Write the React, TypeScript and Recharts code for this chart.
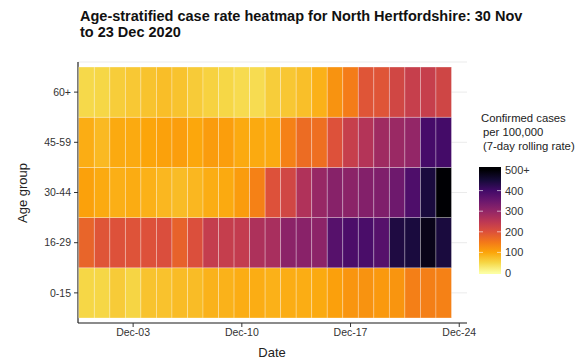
import { ScatterChart, Scatter, XAxis, YAxis, CartesianGrid } from 'recharts';

// Age bands, bottom row first
const AGE_GROUPS = ['0-15', '16-29', '30-44', '45-59', '60+'];

// 30 Nov .. 23 Dec 2020
const DATES = [
  '2020-11-30', '2020-12-01', '2020-12-02', '2020-12-03', '2020-12-04', '2020-12-05',
  '2020-12-06', '2020-12-07', '2020-12-08', '2020-12-09', '2020-12-10', '2020-12-11',
  '2020-12-12', '2020-12-13', '2020-12-14', '2020-12-15', '2020-12-16', '2020-12-17',
  '2020-12-18', '2020-12-19', '2020-12-20', '2020-12-21', '2020-12-22', '2020-12-23',
];

// confirmed cases per 100,000 (7-day rolling rate), one value per date
const RATE_0_15 = [50, 50, 62, 52, 70, 71, 77, 77, 87, 87, 92, 92, 88, 92, 92, 95, 106, 118, 120, 113, 118, 142, 142, 140];
const RATE_16_29 = [175, 195, 200, 198, 200, 205, 178, 203, 238, 236, 240, 268, 275, 310, 312, 308, 375, 388, 390, 375, 440, 445, 480, 445];
const RATE_30_44 = [105, 95, 90, 93, 88, 82, 77, 82, 92, 95, 110, 140, 200, 220, 265, 295, 315, 310, 320, 325, 345, 385, 445, 510];
const RATE_45_59 = [92, 80, 95, 95, 100, 105, 108, 98, 110, 108, 95, 95, 95, 140, 165, 162, 200, 235, 260, 285, 292, 300, 395, 398];
const RATE_60_PLUS = [48, 50, 60, 65, 70, 75, 70, 62, 55, 50, 45, 44, 60, 66, 74, 88, 120, 145, 195, 195, 220, 235, 235, 222];

const RATES = [RATE_0_15, RATE_16_29, RATE_30_44, RATE_45_59, RATE_60_PLUS];

const X_TICKS = [3, 10, 17, 24];
const X_TICK_LABELS = ['Dec-03', 'Dec-10', 'Dec-17', 'Dec-24'];
const LEGEND_TICKS = [0, 100, 200, 300, 400, 500];
const LEGEND_TICK_LABELS = ['0', '100', '200', '300', '400', '500+'];

// inferno, dark -> light
const INFERNO = [
  '#000004', '#160b39', '#420a68', '#6a176e', '#932667', '#bc3754',
  '#dd513a', '#f37819', '#fca50a', '#f6d746', '#fcffa4',
];

const RATE_MAX = 500;

function hexToRgb(h: string) {
  return [1, 3, 5].map((i) => parseInt(h.slice(i, i + 2), 16));
}

function rateColor(v: number) {
  const t = 1 - Math.min(Math.max(v, 0), RATE_MAX) / RATE_MAX;
  const pos = t * (INFERNO.length - 1);
  const i = Math.min(Math.floor(pos), INFERNO.length - 2);
  const f = pos - i;
  const a = hexToRgb(INFERNO[i]);
  const b = hexToRgb(INFERNO[i + 1]);
  const c = a.map((x, k) => Math.round(x + (b[k] - x) * f));
  return `rgb(${c[0]},${c[1]},${c[2]})`;
}

const cells = RATES.flatMap((row, age) =>
  row.map((rate, day) => ({ day, age, rate, date: DATES[day], group: AGE_GROUPS[age] }))
);

const W = 585;
const H = 362;
const MARGIN = { top: 62, right: 118, bottom: 0, left: 0 };
const Y_AXIS_W = 78;
const X_AXIS_H = 39;
const X_DOMAIN: [number, number] = [-0.55, 24.5];
const Y_DOMAIN: [number, number] = [-0.6, 4.6];
const PLOT_W = W - MARGIN.left - MARGIN.right - Y_AXIS_W;
const PLOT_H = H - MARGIN.top - MARGIN.bottom - X_AXIS_H;
const CELL_W = PLOT_W / (X_DOMAIN[1] - X_DOMAIN[0]);
const CELL_H = PLOT_H / (Y_DOMAIN[1] - Y_DOMAIN[0]);

const Tile = (props: any) => {
  const { cx, cy, payload } = props;
  if (cx == null || cy == null) return null;
  return (
    <rect
      x={cx - CELL_W / 2}
      y={cy - CELL_H / 2}
      width={CELL_W}
      height={CELL_H}
      fill={rateColor(payload.rate)}
      stroke="#ffffff"
      strokeOpacity={0.35}
      strokeWidth={0.8}
    />
  );
};

const FONT = 'Arial, "Liberation Sans", sans-serif';

function ColorBar() {
  const barX = 479;
  const barW = 22;
  const y0 = 273; // rate 0
  const y500 = 170; // rate 500
  const pxPer = (y0 - y500) / RATE_MAX;
  return (
    <g>
      <defs>
        <linearGradient id="inferno" x1="0" y1="0" x2="0" y2="1">
          {INFERNO.map((c, i) => (
            <stop key={i} offset={i / (INFERNO.length - 1)} stopColor={c} />
          ))}
        </linearGradient>
      </defs>
      <text x={481} y={122} fontSize={11.3} fill="#222">Confirmed cases</text>
      <text x={483} y={136} fontSize={11.3} fill="#222">per 100,000</text>
      <text x={483} y={150} fontSize={11.3} fill="#222">(7-day rolling rate)</text>
      <rect x={barX} y={y500} width={barW} height={y0 - y500} fill="url(#inferno)" />
      <rect x={barX} y={y500 - 3} width={barW} height={3} fill={INFERNO[0]} />
      <rect x={barX} y={y0} width={barW} height={1} fill={INFERNO[INFERNO.length - 1]} />
      {LEGEND_TICKS.map((v, i) => {
        const y = y0 - v * pxPer;
        return (
          <g key={v}>
            {v > 0 && v < RATE_MAX && (
              <>
                <line x1={barX} x2={barX + 4} y1={y} y2={y} stroke="#fff" strokeOpacity={0.6} />
                <line x1={barX + barW - 4} x2={barX + barW} y1={y} y2={y} stroke="#fff" strokeOpacity={0.6} />
              </>
            )}
            <text x={505} y={y + 4} fontSize={11} fill="#333">{LEGEND_TICK_LABELS[i]}</text>
          </g>
        );
      })}
    </g>
  );
}

export default function App() {
  return (
    <div style={{ position: 'absolute', left: 0, top: 0, width: W, height: H, background: '#fff', fontFamily: FONT }}>
      <ScatterChart width={W} height={H} margin={MARGIN}>
        <CartesianGrid vertical={false} stroke="#ebebeb" strokeWidth={1} />
        <XAxis
          type="number"
          dataKey="day"
          domain={X_DOMAIN}
          allowDataOverflow
          ticks={X_TICKS}
          tickFormatter={(v: number) => X_TICK_LABELS[X_TICKS.indexOf(v)] ?? ''}
          height={X_AXIS_H}
          axisLine={{ stroke: '#222', strokeWidth: 1.2 }}
          tickLine={{ stroke: '#333' }}
          tickSize={4}
          tickMargin={2}
          tick={{ fontSize: 10.5, fill: '#333', fontFamily: FONT }}
        />
        <YAxis
          type="number"
          dataKey="age"
          domain={Y_DOMAIN}
          allowDataOverflow
          ticks={[0, 1, 2, 3, 4]}
          tickFormatter={(v: number) => AGE_GROUPS[v] ?? ''}
          width={Y_AXIS_W}
          axisLine={{ stroke: '#222', strokeWidth: 1.2 }}
          tickLine={{ stroke: '#333' }}
          tickSize={4}
          tickMargin={3}
          tick={{ fontSize: 10.5, fill: '#333', fontFamily: FONT }}
        />
        <Scatter data={cells} shape={Tile} isAnimationActive={false} />
      </ScatterChart>
      <svg width={W} height={H} style={{ position: 'absolute', left: 0, top: 0, pointerEvents: 'none', fontFamily: FONT }}>
        <text x={80} y={21} fontSize={14.5} fontWeight="bold" fill="#111">
          Age-stratified case rate heatmap for North Hertfordshire: 30 Nov
        </text>
        <text x={80} y={37} fontSize={14.5} fontWeight="bold" fill="#111">
          to 23 Dec 2020
        </text>
        <text x={22} y={193} fontSize={13} fill="#222" textAnchor="middle" dominantBaseline="central" transform="rotate(-90 22 193)">
          Age group
        </text>
        <text x={272} y={357} fontSize={13} fill="#222" textAnchor="middle">
          Date
        </text>
        <ColorBar />
      </svg>
    </div>
  );
}
